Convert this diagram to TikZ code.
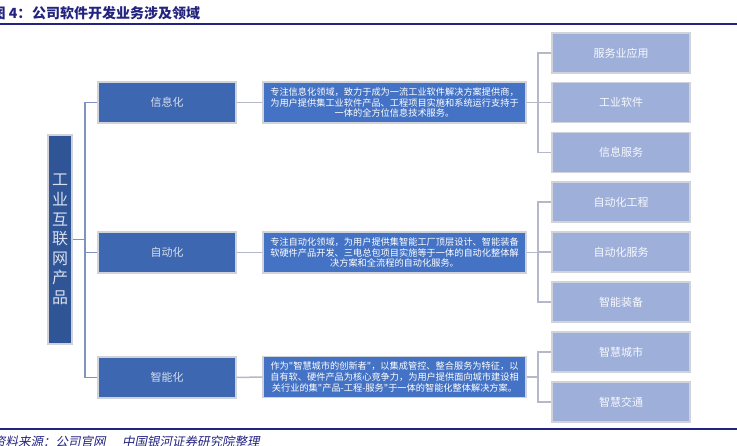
\documentclass[tikz,border=0pt]{standalone}
\usepackage{fontspec}
\newfontfamily\cjk{Noto Sans CJK SC}
\newfontfamily\cjksl[FakeSlant=0.2]{Noto Sans CJK SC}
\definecolor{navy}{RGB}{35,35,128}
\definecolor{colfill}{RGB}{47,85,151}
\definecolor{lonefill}{RGB}{61,103,177}
\definecolor{descfill}{RGB}{68,114,196}
\definecolor{leaffill}{RGB}{158,175,218}
\definecolor{boxline}{RGB}{208,211,218}
\definecolor{ltree}{RGB}{128,147,191}
\definecolor{rtree}{RGB}{180,184,200}
\definecolor{ltext}{RGB}{216,222,236}
\tikzset{
  rootbox/.style={draw=boxline, line width=1.3pt, fill=colfill, minimum width=24pt, minimum height=209pt, inner sep=0pt, text=ltext, align=center, font=\cjk\fontsize{16}{19.6}\selectfont},
  levelbox/.style={draw=boxline, line width=1.3pt, fill=lonefill, minimum width=138pt, minimum height=41pt, inner sep=0pt, text=ltext, font=\cjk\fontsize{11}{13}\selectfont},
  descbox/.style={draw=boxline, line width=1.3pt, fill=descfill, minimum width=263pt, minimum height=41pt, inner sep=0pt, text=white, align=center, font=\cjk\fontsize{9.2}{10.8}\selectfont},
  leafbox/.style={draw=boxline, line width=1.3pt, fill=leaffill, minimum width=138pt, minimum height=40pt, inner sep=0pt, text=white!92!leaffill, font=\cjk\fontsize{11}{13}\selectfont},
  ltreeline/.style={draw=ltree, line width=1.5pt},
  rtreeline/.style={draw=rtree, line width=1.5pt},
  titletext/.style={inner sep=0pt, text=navy, font=\cjk\bfseries\fontsize{14}{16}\selectfont},
  srctext/.style={inner sep=0pt, text=navy, font=\cjksl\fontsize{12.5}{14}\selectfont},
}
\begin{document}
\begin{tikzpicture}[x=1pt,y=-1pt]
\useasboundingbox (0,0) rectangle (737,446);
\clip (0,0) rectangle (737,446);
% title and rules
\node[titletext, anchor=east] (t1) at (31.5,13) {图 4：};
\node[titletext, anchor=west] (t2) at (32,13) {公司软件开发业务涉及领域};
\draw[navy, line width=1.6pt] (0,24) -- (737,24);
\draw[navy, line width=1.6pt] (0,429) -- (737,429);
\node[srctext, anchor=west] (s1) at (-7,442) {资料来源：公司官网};
\node[srctext, anchor=west] (s3) at (122,442) {中国银河证券研究院整理};
% root
\node[rootbox] (root) at (60,239.5) {工\\业\\互\\联\\网\\产\\品};
% level 1
\node[levelbox] (la) at (167,102.5) {信息化};
\node[levelbox] (lb) at (167,252.5) {自动化};
\node[levelbox] (lc) at (167,377.5) {智能化};
% descriptions
\node[descbox] (da) at (394.5,102.5) {专注信息化领域，致力于成为一流工业软件解决方案提供商，\\为用户提供集工业软件产品、工程项目实施和系统运行支持于\\一体的全方位信息技术服务。};
\node[descbox] (db) at (394.5,252.5) {专注自动化领域，为用户提供集智能工厂顶层设计、智能装备\\软硬件产品开发、三电总包项目实施等于一体的自动化整体解\\决方案和全流程的自动化服务。};
\node[descbox] (dc) at (394.5,377) {作为"智慧城市的创新者"，以集成管控、整合服务为特征，以\\自有软、硬件产品为核心竞争力，为用户提供面向城市建设相\\关行业的集"产品-工程-服务"于一体的智能化整体解决方案。};
% leaves
\node[leafbox] (a1) at (621,53) {服务业应用};
\node[leafbox] (a2) at (621,102.5) {工业软件};
\node[leafbox] (a3) at (621,152.5) {信息服务};
\node[leafbox] (b1) at (621,202) {自动化工程};
\node[leafbox] (b2) at (621,252) {自动化服务};
\node[leafbox] (b3) at (621,302) {智能装备};
\node[leafbox] (c1) at (621,352) {智慧城市};
\node[leafbox] (c2) at (621,402) {智慧交通};
% connectors
\coordinate (lt) at (85,0);
\coordinate (rt) at (538,0);
\draw[ltreeline] (root.east) -- (root.east -| lt);
\draw[ltreeline] (la.west) -- (la.west -| lt) -- (lc.west -| lt) -- (lc.west);
\draw[ltreeline] (lb.west) -- (lb.west -| lt);
\draw[rtreeline] (la.east) -- (da.west);
\draw[rtreeline] (lb.east) -- (db.west);
\draw[rtreeline] (lc.east) -- (dc.west);
\draw[rtreeline] (da.east) -- (da.east -| rt);
\draw[rtreeline] (a1.west) -- (a1.west -| rt) -- (a3.west -| rt) -- (a3.west);
\draw[rtreeline] (a2.west) -- (a2.west -| rt);
\draw[rtreeline] (db.east) -- (db.east -| rt);
\draw[rtreeline] (b1.west) -- (b1.west -| rt) -- (b3.west -| rt) -- (b3.west);
\draw[rtreeline] (b2.west) -- (b2.west -| rt);
\draw[rtreeline] (dc.east) -- (dc.east -| rt);
\draw[rtreeline] (c1.west) -- (c1.west -| rt) -- (c2.west -| rt) -- (c2.west);
\end{tikzpicture}
\end{document}
